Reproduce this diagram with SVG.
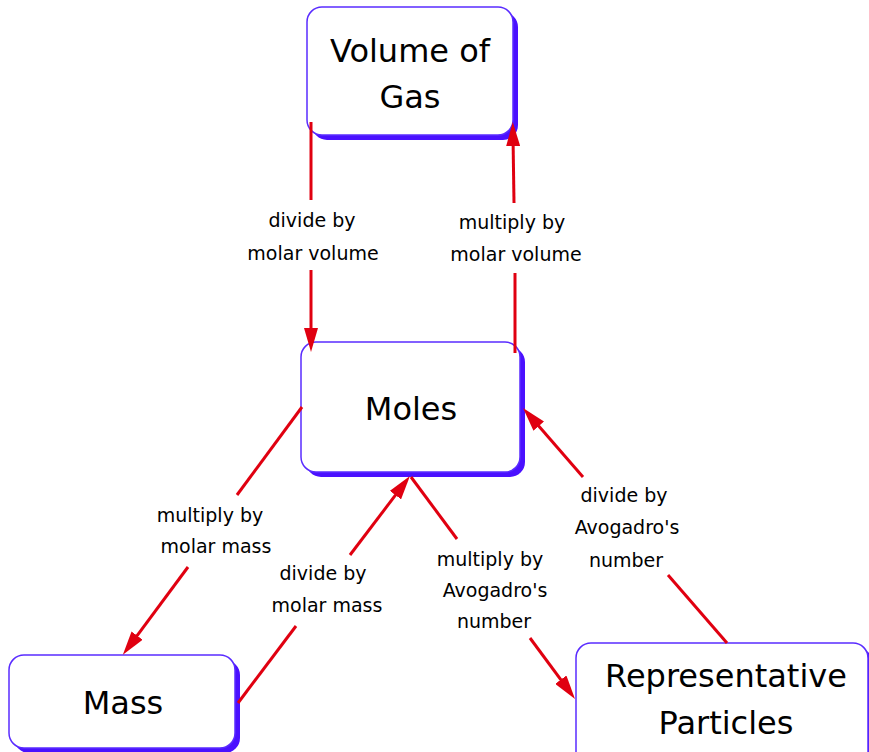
<svg xmlns="http://www.w3.org/2000/svg" width="869" height="752" viewBox="0 0 869 752">
  <style>
    .box { fill: #ffffff; stroke: #5a2cff; stroke-width: 1.5; }
    .shadow { fill: #4a10ff; }
    .ntext { font-family: "DejaVu Sans", "Noto Sans", sans-serif; font-size: 32px; fill: #000; text-anchor: middle; }
    .ltext { font-family: "DejaVu Sans", "Noto Sans", sans-serif; font-size: 19px; fill: #000; text-anchor: middle; }
    .edge { stroke: #e00010; stroke-width: 3; fill: none; }
  </style>
  <defs>
    <marker id="arrow" viewBox="0 0 24 14" markerWidth="24" markerHeight="14" refX="10" refY="7" orient="auto" markerUnits="userSpaceOnUse">
      <path d="M0,0 L24,7 L0,14 z" fill="#e00010"/>
    </marker>
  </defs>
  <rect width="869" height="752" fill="#ffffff"/>

  <g id="node-volume">
    <rect class="shadow" x="312" y="12" width="206" height="128" rx="15"/>
    <rect class="box" x="307" y="7" width="206" height="128" rx="15"/>
    <text class="ntext" x="410" y="62">Volume of</text>
    <text class="ntext" x="410" y="108">Gas</text>
  </g>

  <g id="node-moles">
    <rect class="shadow" x="306" y="347" width="219" height="130" rx="15"/>
    <rect class="box" x="301" y="342" width="219" height="130" rx="15"/>
    <text class="ntext" x="411" y="420">Moles</text>
  </g>

  <g id="node-mass">
    <rect class="shadow" x="14" y="660" width="226" height="93" rx="15"/>
    <rect class="box" x="9" y="655" width="226" height="93" rx="15"/>
    <text class="ntext" x="123" y="714">Mass</text>
  </g>

  <g id="node-particles">
    <rect class="shadow" x="581" y="648" width="292" height="130" rx="15"/>
    <rect class="box" x="576" y="643" width="292" height="130" rx="15"/>
    <text class="ntext" x="726" y="687">Representative</text>
    <text class="ntext" x="726" y="734">Particles</text>
  </g>

  <g id="connectors">
    <!-- Volume -> Moles -->
    <line class="edge" x1="311" y1="122" x2="311" y2="200"/>
    <line class="edge" x1="311" y1="270" x2="311" y2="338" marker-end="url(#arrow)"/>
    <!-- Moles -> Volume -->
    <line class="edge" x1="515" y1="353" x2="515" y2="273"/>
    <line class="edge" x1="514" y1="203" x2="513" y2="136" marker-end="url(#arrow)"/>
    <!-- Moles -> Mass -->
    <line class="edge" x1="302" y1="407" x2="237" y2="495"/>
    <line class="edge" x1="188" y1="567" x2="131.2" y2="643.6" marker-end="url(#arrow)"/>
    <!-- Mass -> Moles -->
    <line class="edge" x1="238" y1="703" x2="296" y2="626"/>
    <line class="edge" x1="350" y1="555" x2="401.5" y2="487.2" marker-end="url(#arrow)"/>
    <!-- Moles -> Particles -->
    <line class="edge" x1="411" y1="477" x2="457" y2="539"/>
    <line class="edge" x1="530" y1="638" x2="566.7" y2="687.7" marker-end="url(#arrow)"/>
    <!-- Particles -> Moles -->
    <line class="edge" x1="727" y1="643" x2="668" y2="575"/>
    <line class="edge" x1="583" y1="477" x2="532.2" y2="418.6" marker-end="url(#arrow)"/>
  </g>

  <g id="labels">
    <text class="ltext" x="312" y="227">divide by</text>
    <text class="ltext" x="313" y="260">molar volume</text>

    <text class="ltext" x="512" y="229">multiply by</text>
    <text class="ltext" x="516" y="261">molar volume</text>

    <text class="ltext" x="210" y="522">multiply by</text>
    <text class="ltext" x="216" y="553">molar mass</text>

    <text class="ltext" x="323" y="580">divide by</text>
    <text class="ltext" x="327" y="612">molar mass</text>

    <text class="ltext" x="490" y="566">multiply by</text>
    <text class="ltext" x="495" y="597">Avogadro's</text>
    <text class="ltext" x="494" y="628">number</text>

    <text class="ltext" x="624" y="502">divide by</text>
    <text class="ltext" x="627" y="534">Avogadro's</text>
    <text class="ltext" x="626" y="567">number</text>
  </g>
</svg>
